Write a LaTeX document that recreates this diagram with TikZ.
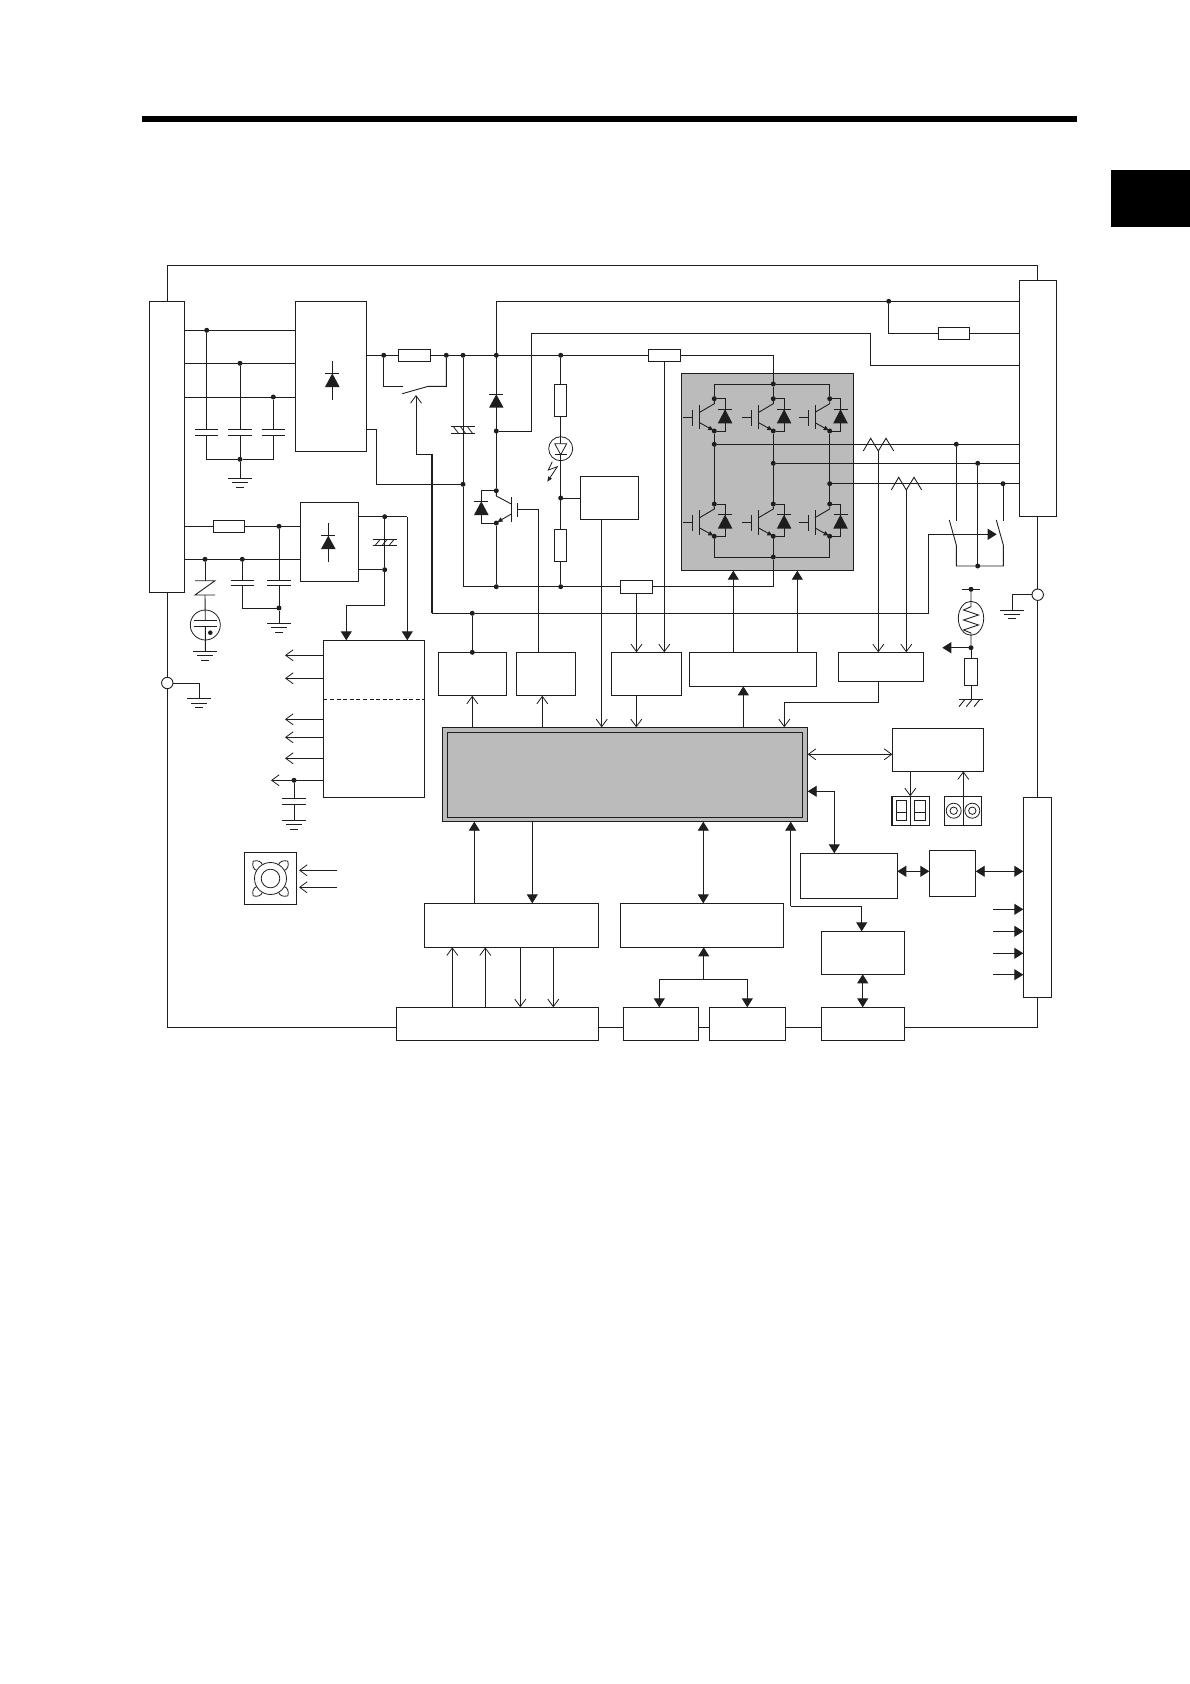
\documentclass[tikz,border=0pt]{standalone}
\usetikzlibrary{arrows.meta}
\definecolor{ink}{HTML}{1E1E1E}
\definecolor{panel}{HTML}{BBBBBB}
\tikzset{
  blk/.style={draw=ink,inner sep=0pt,outer sep=0pt,line width=.9pt},
  jdot/.style={circle,fill=ink,inner sep=0pt,outer sep=0pt,minimum size=5pt},
  ring/.style={circle,draw=ink,fill=white,inner sep=0pt,outer sep=0pt,minimum size=11.4pt,line width=.9pt},
  oa/.style={-{Straight Barb[length=7.5pt,width=11pt,line width=.8pt]}},
  oo/.style={{Straight Barb[length=7.5pt,width=11pt,line width=.8pt]}-{Straight Barb[length=7.5pt,width=11pt,line width=.8pt]}},
  fa/.style={-{Triangle[length=9pt,width=11pt]}},
  ff/.style={{Triangle[length=9pt,width=11pt]}-{Triangle[length=9pt,width=11pt]}},
}
\newcommand\blk[6][]{\node[blk,#1,minimum width={#5-#3},minimum height={#6-#4}] (#2) at ({(#3+#5)/2},{(#4+#6)/2}) {};}
\newcommand\jn[3]{\node[jdot] (#1) at (#2,#3) {};}
\newcommand\gnd[2]{\draw (#1-12,#2) -- (#1+12,#2) (#1-8,#2+4.4) -- (#1+8,#2+4.4) (#1-4,#2+8.8) -- (#1+4,#2+8.8);}
\newcommand\capa[3]{\fill[white] (#1-5,#2) rectangle (#1+5,#3);\draw (#1-11.7,#2) -- (#1+11.7,#2) (#1-11.7,#3) -- (#1+11.7,#3);}
\newcommand\diode[3]{\fill[ink] (#1,#2) -- (#1+7.3,#3) -- (#1-7.3,#3) -- cycle;\draw (#1-7,#2) -- (#1+7,#2);}
\newcommand\res[5]{\blk{#1}{#2}{#3}{#4}{#5}}
\newcommand\ecapa[4]{% x y1 y2 slant
  \draw (#1-12,#2) -- (#1+12,#2) (#1-12,#3) -- (#1+12,#3);
  \foreach \i in {-7,0,7}{\draw[line width=.8pt] (#1+\i-#4,#2) -- (#1+\i+#4,#3);}}
\newcommand\igbt[3]{%
  \jn{#1c}{#2}{#3}\jn{#1e}{#2}{#3+32.3}
  \draw (#2-31,#3+18.3) -- (#2-21.6,#3+18.3);
  \draw (#2-21.6,#3+11.3) -- (#2-21.6,#3+27);
  \draw (#2-14.6,#3+6.3) -- (#2-14.6,#3+30.6);
  \draw (#1c) -- (#2,#3+5) -- (#2-14.6,#3+13.6);
  \draw[-{Triangle[length=5pt,width=4.5pt]}] (#2-14.6,#3+24) -- (#2-1,#3+31.6);
  \draw (#1c) -| (#2+10.8,#3+32.3) -- (#1e);
  \diode{#2+10.8}{#3+10.6}{#3+24.6}
}
\begin{document}
\begin{tikzpicture}[x=1pt,y=-1pt,line width=.9pt,color=ink]
\useasboundingbox (0,0) rectangle (1190,1684);
% page furniture
\fill[black] (142,116) rectangle (1077,122);
\fill[black] (1111,170) rectangle (1190,227);
% grey panels
\blk[fill=panel]{bridge}{681.7}{373.3}{853.7}{570.7}
\blk[fill=panel]{mainout}{442.3}{727.3}{807.7}{821.7}
\blk{maininner}{447.3}{732.3}{802.7}{817.7}
% terminals and blocks
\blk{Tl}{149.3}{301.3}{184.3}{592.3}
\blk{Tr}{1019.3}{280.3}{1056.7}{516.7}
\blk{Tb}{1023.3}{797.3}{1051.7}{997.3}
\blk{RecA}{295.3}{301.3}{366.7}{451.3}
\blk{RecB}{300.3}{502.3}{358.7}{581.3}
\blk{Psu}{323.3}{640.3}{424.7}{797.3}
\blk{Drv}{580.3}{476.3}{638.7}{519.3}
\blk{BA}{438.3}{652.3}{506.7}{695.7}
\blk{BB}{516.3}{652.3}{575.7}{695.7}
\blk{BC}{611.3}{652.3}{681.7}{695.7}
\blk{BD}{689.3}{652.3}{816.7}{686.3}
\blk{BE}{838.3}{652.3}{923.7}{681.3}
\blk{CA}{424.3}{903.3}{598.7}{947.3}
\blk{CB}{620.3}{903.3}{783.7}{947.3}
\blk{DA}{396.3}{1007.3}{598.7}{1040.3}
\blk{DB}{623.3}{1007.3}{698.7}{1040.3}
\blk{DC}{709.3}{1007.3}{785.7}{1040.3}
\blk{DD}{821.3}{1007.3}{904.7}{1040.3}
\blk{EE}{821.3}{931.3}{904.7}{974.3}
\blk{FF}{800.3}{853.3}{897.3}{898.3}
\draw[line width=1.6pt] (897.3,853.3) -- (897.3,898.3);
\blk{GG}{929.3}{850.3}{975.7}{896.3}
\blk{HH}{892.3}{728.3}{983.7}{771.3}
% frame
\coordinate (fb) at (167.3,1027.3);
\node[ring] (gl) at (167.3,683) {};
\node[ring] (gr) at (1037.7,594.7) {};
\draw (Tl.north -| fb) |- (gr |- 0,265.3) -- (gr |- Tr.north);
\draw (Tl.south -| fb) -- (gl) -- (fb) -- (DA.west |- fb);
\draw (DA.east |- fb) -- (DB.west |- fb);
\draw (DB.east |- fb) -- (DC.west |- fb);
\draw (DC.east |- fb) -- (DD.west |- fb);
\draw (DD.east |- fb) -| (gr |- Tb.south);
\draw (gr |- Tr.south) -- (gr) -- (gr |- Tb.north);
% frame earths
\coordinate (ge1) at (199.3,698.7);
\draw (gl) -| (ge1);
\gnd{199.3}{698.7}
\coordinate (ge2) at (1012.3,610);
\draw (gr) -| (ge2);
\gnd{1012.3}{610}
% three phase input
\jn{a1}{206.7}{330.3}\jn{a2}{240}{363.3}\jn{a3}{273.3}{397}\jn{j1}{240}{459.3}
\draw (Tl.east |- a1) -- (RecA.west |- a1);
\draw (Tl.east |- a2) -- (RecA.west |- a2);
\draw (Tl.east |- a3) -- (RecA.west |- a3);
\draw (a1) |- (j1) -| (a3);
\draw (a2) -- (j1);
\coordinate (e1) at (240,478.3);
\draw (j1) -- (e1);
\gnd{240}{478.3}
\capa{206.7}{429.3}{435}\capa{240}{429.3}{435}\capa{273.3}{429.3}{435}
\coordinate (da1) at (332.3,361.3);\coordinate (da2) at (332.3,399.7);
\draw (da1) -- (da2);
\diode{332.3}{373.3}{387}
% DC bus
\jn{b1}{383.7}{355.3}\jn{b2}{446.3}{355.3}\jn{b3}{463}{355.3}\jn{b4}{496.3}{355.3}\jn{b5}{560.7}{355.3}
\res{Rin}{398.3}{349.3}{430.3}{361.3}
\res{Sh1}{648.3}{349.3}{680.3}{361.3}
\jn{t0}{773.3}{384}
\draw (RecA.east |- b1) -- (Rin.west |- b1);
\draw (Rin.east |- b1) -- (Sh1.west |- b1);
\draw (Sh1.east |- b1) -| (t0);
\coordinate (sw1) at (403,386.3);\coordinate (sw2) at (428.3,386.3);\coordinate (swb) at (402.3,393.7);
\draw (b1) |- (sw1);
\draw (b2) |- (sw2) -- (swb);
\coordinate (k1) at (431.7,454.3);\coordinate (k2) at (431.7,613.3);\coordinate (ktip) at (416,395);
\draw[oa] (k1) -| (ktip);
\draw[line width=1.8pt] (k1) -- (k2);
\jn{t3}{472.3}{613.3}
\coordinate (k3) at (928.3,613.3);\coordinate (k4) at (928.3,534.3);\coordinate (k5) at (996.7,534.3);
\draw (k2) -- (t3) -- (k3) -- (k4);
\draw[fa] (k4) -- (k5);
\jn{t3b}{472.3}{652.3}
\draw (t3) -- (t3b);
\jn{b6}{463}{484.3}\coordinate (ra) at (376.7,429.3);
\draw (RecA.east |- ra) -- (ra) |- (b6);
\jn{n1}{496.3}{586.7}\jn{n2}{560.7}{586.7}
\res{Sh2}{620.3}{580.3}{652.7}{593.3}
\jn{r0}{773.3}{557}
\draw (b3) -- (b6) |- (n1);
\draw (n1) -- (Sh2.west |- n1);
\draw (Sh2.east |- n1) -| (r0);
\ecapa{463}{426.7}{433.3}{2.5}
% brake
\coordinate (tl) at (496.3,301.3);
\jn{p1}{496.3}{431}\jn{p2}{496.3}{490.7}\jn{p3}{496.3}{523}\jn{q1}{888.7}{301.3}
\draw (tl) -- (Tr.west |- tl);
\draw (tl) -- (p2);
\diode{496.3}{394.3}{407.7}
\draw (p3) -- (n1);
\draw (p1) -| (531.3,333.3) -| (870.3,365.3) -- (Tr.west |- 0,365.3);
\draw (p2) -- (496.3,496) -- (511.3,504);
\draw[-{Triangle[length=5pt,width=4.5pt]}] (511.3,514) -- (497.5,522);
\draw (511.3,497.3) -- (511.3,521.7);
\draw (517.3,503.3) -- (517.3,517.3);
\draw (517.3,509.3) -- (538.3,509.3) -- (BB.north -| 538.3,0);
\coordinate (dx) at (481.3,523);
\draw (p2) -| (dx) -- (p3);
\diode{481.3}{501.3}{515}
% right supply string
\res{Rs1}{554.5}{384.3}{566.7}{416.3}
\res{Rs2}{554.5}{529.3}{566.7}{561.7}
\jn{n3}{560.7}{498}
\draw (b5) -- (Rs1.north -| b5);
\draw (Rs1.south -| b5) -- (Rs2.north -| b5);
\draw (Rs2.south -| b5) -- (n2);
\draw (n3) -- (Drv.west |- n3);
\node[circle,draw=ink,inner sep=0pt,minimum size=24pt,line width=.8pt] (led) at (560.7,448.7) {};
\draw[fill=white,line width=.8pt] (554.7,443.7) -- (566.7,443.7) -- (560.7,454.7) -- cycle;
\draw (554.7,454.7) -- (566.7,454.7);
\draw[line width=.8pt,-{Triangle[length=5pt,width=4pt]}] (552.3,461.7) -- (548.3,470) -- (557.3,466.7) -- (547.3,481.7);
% inverter bridge
\igbt{ua}{714.3}{398.7}\igbt{ub}{773.3}{398.7}\igbt{uc}{829.7}{398.7}
\igbt{la}{714.3}{504}\igbt{lb}{773.3}{504}\igbt{lc}{829.7}{504}
\draw (uac) |- (t0) -| (ucc);
\draw (t0) -- (ubc);
\jn{o1}{714.3}{444.3}\jn{o2}{773.3}{463.3}\jn{o3}{829.7}{483.7}
\draw (uae) -- (lac);
\draw (ube) -- (lbc);
\draw (uce) -- (lcc);
\draw (lae) |- (r0) -| (lce);
\draw (lbe) -- (r0);
\draw (o1) -- (Tr.west |- o1);
\draw (o2) -- (Tr.west |- o2);
\draw (o3) -- (Tr.west |- o3);
% current sensing
\coordinate (cs1) at (878.3,451);\coordinate (cs2) at (906.3,490);
\draw (863.3,451) -- (870.7,438.3) -- (cs1) -- (886,438.3) -- (893.7,451);
\draw (891.3,490) -- (898.7,477.3) -- (cs2) -- (914,477.3) -- (921.7,490);
\draw[oa] (cs1) -- (BE.north -| cs1);
\draw[oa] (cs2) -- (BE.north -| cs2);
% brake-side right terminal
\coordinate (q2) at (888.7,333.3);
\res{Rt}{938.3}{327.3}{969.7}{339.7}
\draw (q1) |- (Rt.west |- q2);
\draw (Rt.east |- q2) -- (Tr.west |- q2);
% motor relays
\jn{m1}{956.3}{444.3}\jn{m2}{977.7}{463.3}\jn{m3}{1003}{483.7}\jn{m4}{977.7}{566}
\coordinate (m1e) at (956.3,520.7);\coordinate (m3e) at (1003,520.7);
\draw (m1) -- (m1e);
\draw (m3) -- (m3e);
\draw (m2) -- (m4);
\draw (949.3,520) -- (956.3,545) |- (m4) -| (1003.3,545) -- (996.3,520);
% thermistor
\jn{th1}{971}{589.3}\jn{th2}{971}{647.7}
\res{Rth}{964.3}{658.3}{977.7}{685.3}
\coordinate (ch) at (971,699.3);
\draw (962.3,589.3) -- (979.7,589.3);
\draw (th1) -- (971,606.7) -- (963.5,610) -- (978.5,615) -- (963.5,620) -- (978.5,625) -- (963.5,630) -- (971,633) -- (th2);
\draw[line width=.8pt] (971,618.3) ellipse [x radius=12.7,y radius=17];
\coordinate (thtip) at (942.3,647.7);
\draw[fa] (th2) -- (thtip);
\draw (th2) -- (Rth.north);
\draw (Rth.south) -- (ch);
\draw (959,699.3) -- (982.7,699.3);
\draw (965,699.3) -- (959,706.7) (972.3,699.3) -- (966.3,706.7) (980,699.3) -- (974,706.7);
% control supply input
\res{Rc}{213.3}{520.3}{244.7}{532.7}
\jn{c1}{279}{526.3}\jn{c2}{205}{559.3}\jn{c3}{242.3}{559.3}\jn{c4}{279}{608}
\draw (Tl.east |- c1) -- (Rc.west |- c1);
\draw (Rc.east |- c1) -- (RecB.west |- c1);
\draw (Tl.east |- c2) -- (RecB.west |- c2);
\draw (c1) -- (c4);
\draw (c3) |- (c4);
\coordinate (e2) at (279,623.3);
\draw (c4) -- (e2);
\gnd{279}{623.3}
\capa{242.3}{580.3}{585.7}\capa{279}{580.3}{585.7}
\coordinate (db1) at (328.3,523.3);\coordinate (db2) at (328.3,561.7);
\draw (db1) -- (db2);
\diode{328.3}{535.7}{549}
% surge path
\coordinate (z1) at (205,580.7);\coordinate (z2) at (205,595);
\draw (c2) -- (z1);
\draw (195,580.7) -- (215,580.7) -- (195,595) -- (215,595);
\node[circle,draw=ink,inner sep=0pt,minimum size=30pt,line width=.8pt] (gas) at (205.3,625) {};
\draw (z2) -- (205.3,620) (205.3,626) -- (205.3,651.3);
\draw (193.6,620) -- (217,620) (193.6,626) -- (217,626);
\fill[ink] (210.3,632.7) circle [radius=2.3pt];
\gnd{205.3}{651.3}
% control supply output
\jn{u1}{384.7}{516.7}\jn{u2}{384.7}{569.7}
\coordinate (u3) at (407.3,516.7);\coordinate (u4) at (346.3,605.3);
\draw (RecB.east |- u1) -- (u3);
\draw[fa] (u3) -- (Psu.north -| u3);
\draw (RecB.east |- u2) -- (u2);
\draw (u1) -- (u2);
\draw (u2) |- (u4);
\draw[fa] (u4) -- (Psu.north -| u4);
\ecapa{384.7}{539.3}{545.3}{-2.5}
% PSU outputs
\draw[dashed,line width=.8pt,dash pattern=on 4pt off 2.6pt] (Psu.west |- 0,699.3) -- (Psu.east |- 0,699.3);
\foreach \yy in {655.3,678.3,719.3,737.3,758.3}{\draw[oa] (Psu.west |- 0,\yy) -- (285,\yy);}
\jn{v1}{294}{780.3}
\coordinate (vt) at (271,780.3);
\draw[oa] (Psu.west |- v1) -- (vt);
\coordinate (v2) at (294,820.3);
\draw (v1) -- (v2);
\capa{294}{798.3}{804}
\gnd{294}{820.3}
% fan
\blk{Fan}{244.3}{852.3}{296.7}{904.7}
\node[circle,draw=ink,inner sep=0pt,minimum size=32pt,line width=.8pt] (fr1) at (270.5,878.5) {};
\node[circle,draw=ink,inner sep=0pt,minimum size=18.6pt,line width=.8pt] (fr2) at (270.5,878.5) {};
\foreach \a in {45,135,225,315}{
  \begin{scope}[shift={(270.5,878.5)},rotate=\a]
    \draw[line width=.8pt] (15.6,-4) .. controls (18,-5.5) and (22,-4.5) .. (24.5,0) .. controls (22,4.5) and (18,5.5) .. (15.6,4);
  \end{scope}}
\coordinate (fa1) at (337,870.3);\coordinate (fa2) at (337,887.3);
\draw[oa] (fa1) -- (299,870.3);
\draw[oa] (fa2) -- (299,887.3);
% links around the main block
\draw[oa] (mainout.north -| 472.3,0) -- (BA.south -| 472.3,0);
\draw[oa] (mainout.north -| 542.3,0) -- (BB.south -| 542.3,0);
\draw[oa] (Drv.south -| 601.7,0) -- (mainout.north -| 601.7,0);
\draw[oa] (Sh1.south) -- (BC.north -| Sh1.south);
\draw[oa] (Sh2.south) -- (BC.north -| Sh2.south);
\draw[oa] (BC.south -| 636.3,0) -- (mainout.north -| 636.3,0);
\draw (BD.north -| 733.3,0) -- (733.3,590);
\draw (BD.north -| 797.3,0) -- (797.3,590);
\draw[fa] (733.3,590) -- (bridge.south -| 733.3,0);
\draw[fa] (797.3,590) -- (bridge.south -| 797.3,0);
\draw[fa] (mainout.north -| 743.3,0) -- (BD.south -| 743.3,0);
\coordinate (be1) at (878.3,702.7);\coordinate (be2) at (784.3,702.7);
\draw (BE.south -| be1) -- (be1) -- (be2);
\draw[oa] (be2) -- (mainout.north -| be2);
\draw[fa] (CA.north -| 474.3,0) -- (mainout.south -| 474.3,0);
\draw[fa] (mainout.south -| 532.3,0) -- (CA.north -| 532.3,0);
\draw[ff] (mainout.south -| 703.3,0) -- (CB.north -| 703.3,0);
\draw[oa] (DA.north -| 452.3,0) -- (CA.south -| 452.3,0);
\draw[oa] (DA.north -| 485.3,0) -- (CA.south -| 485.3,0);
\draw[oa] (CA.south -| 520.3,0) -- (DA.north -| 520.3,0);
\draw[oa] (CA.south -| 553.3,0) -- (DA.north -| 553.3,0);
\coordinate (w0) at (703.7,979.3);
\draw[fa] (w0) -- (CB.south -| w0);
\draw[fa] (w0) -| (DB.north -| 659.3,0);
\draw[fa] (w0) -| (DC.north -| 747.3,0);
\draw[ff] (EE.south -| 862.7,0) -- (DD.north -| 862.7,0);
\coordinate (y1) at (790.7,906.3);\coordinate (y2) at (861.7,906.3);
\draw[fa] (y1) -- (mainout.south -| y1);
\draw[fa] (y1) -- (y2) -- (EE.north -| y2);
\coordinate (xr) at (834.3,791.3);
\draw[fa] (xr) -- (mainout.east |- xr);
\draw[fa] (xr) -- (FF.north -| xr);
\draw[oo] (mainout.east |- 0,754.3) -- (HH.west |- 0,754.3);
\draw[ff] (FF.east |- 0,871.3) -- (GG.west |- 0,871.3);
\draw[ff] (GG.east |- 0,871.3) -- (Tb.west |- 0,871.3);
\foreach \yy in {909.3,931.3,953.3,974.7}{\draw[fa] (993,\yy) -- (Tb.west |- 0,\yy);}
% display and pots
\blk{Disp}{891.7}{796.3}{929.7}{825.3}
\draw[line width=1.6pt] (891.7,796.3) -- (891.7,825.3);
\draw (910.3,796.3) -- (910.3,825.3);
\blk{sa}{896.3}{800.3}{906.7}{820.3}
\blk{sb}{914.3}{800.3}{925.7}{820.3}
\draw (sa.west |- 0,812.3) -- (sa.east |- 0,812.3);
\draw (sb.west |- 0,812.3) -- (sb.east |- 0,812.3);
\blk{Pot}{944.3}{796.3}{981.7}{825.3}
\draw (963.3,796.3) -- (963.3,825.3);
\foreach \xx in {953.7,972.3}{
  \draw[line width=.8pt] (\xx,810.7) circle [radius=7.5pt];
  \draw[line width=.8pt] (\xx,810.7) circle [radius=3.7pt];}
\draw[oa] (HH.south -| 910.3,0) -- (Disp.north -| 910.3,0);
\draw[oa] (Pot.north -| 963.3,0) -- (HH.south -| 963.3,0);
\end{tikzpicture}
\end{document}
